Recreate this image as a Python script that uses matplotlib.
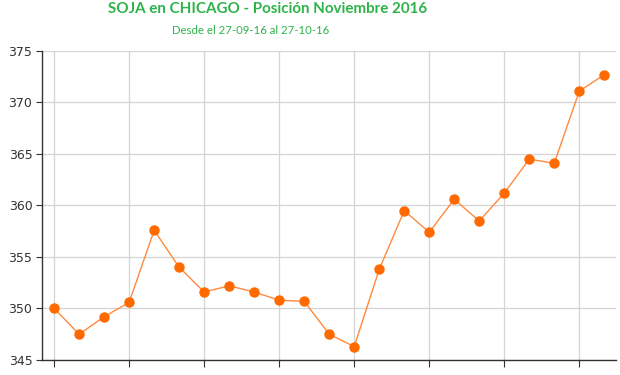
import matplotlib
matplotlib.use("Agg")
import matplotlib.pyplot as plt

titulo = "SOJA en CHICAGO - Posición Noviembre 2016"
subtitulo = "Desde el 27-09-16 al 27-10-16"

precios = [350.0, 347.5, 349.2, 350.6, 357.6, 354.0, 351.6, 352.2, 351.6, 350.8,
           350.7, 347.5, 346.3, 353.8, 359.5, 357.4, 360.6, 358.5, 361.2, 364.5,
           364.1, 371.1, 372.7]
ticks_y = [345, 350, 355, 360, 365, 370, 375]

verde = "#2db34a"
naranja = "#ff6a00"

fig = plt.figure(figsize=(6.2, 3.75), dpi=100)
ax = fig.add_axes([0.068, 0.04, 0.926, 0.824])

x = list(range(len(precios)))
ax.plot(x, precios, color="#ff8a3d", lw=1.0, zorder=3)
ax.plot(x, precios, ls="none", marker="o", ms=6.5, color=naranja, zorder=4)

ax.set_xlim(-0.48, len(precios) - 0.52)
ax.set_ylim(345, 375)
ax.set_yticks(ticks_y)
ax.set_xticks(x[::3])
ax.set_xticklabels([])
ax.grid(True, color="#d4d4d4", lw=0.9)
ax.set_axisbelow(True)

for s in ["top", "right"]:
    ax.spines[s].set_visible(False)
for s in ["left", "bottom"]:
    ax.spines[s].set_color("#333333")
    ax.spines[s].set_linewidth(1.0)
ax.tick_params(axis="y", length=4, color="#333333", labelsize=9, labelcolor="#333333", pad=3)
ax.tick_params(axis="x", length=5, color="#333333")

fig.text(0.432, 0.975, titulo, ha="center", va="center", color=verde,
         fontsize=10.9, fontweight="bold", family="Lato")
fig.text(0.405, 0.918, subtitulo, ha="center", va="center", color=verde,
         fontsize=8.2, family="Lato")

fig.savefig("out.png", dpi=100)
